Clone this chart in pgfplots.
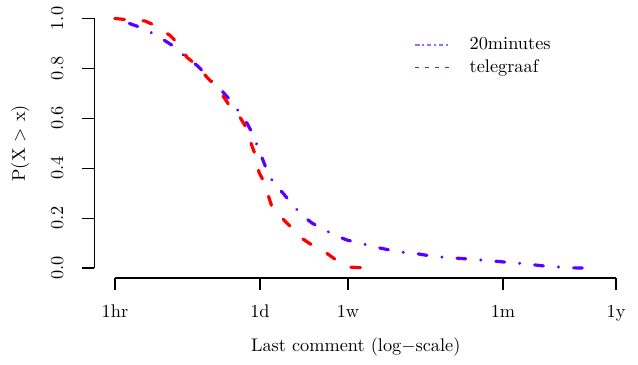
\documentclass[border=0pt]{standalone}
\usepackage{pgfplots}
\pgfplotsset{compat=1.18}
\definecolor{bl}{RGB}{90,0,255}
\definecolor{rd}{RGB}{255,0,0}
\definecolor{lgA}{RGB}{150,110,255}
\definecolor{lgB}{RGB}{90,30,255}
\begin{document}
\begin{tikzpicture}
\path[use as bounding box] (-51.63pt,-47.54pt) rectangle (296.97pt,151.9pt);
\begin{axis}[
 at={(0,0)}, anchor=south west,
 scale only axis, width=285.5pt, height=147.25pt,
 xmin=-0.1956, xmax=4.790, ymin=-0.04, ymax=1.04,
 axis lines*=left, axis line style={draw=none},
 clip=false,
 tick align=outside, major tick length=6.56pt,
 every tick/.style={black, line width=0.6pt},
 xtick={0,1.3836,2.2233,3.7023,4.7805}, xticklabels={1hr,1d,1w,1m,1y},
 ytick={0,0.2,0.4,0.6,0.8,1.0}, yticklabels={0.0,0.2,0.4,0.6,0.8,1.0},
 xticklabel style={yshift=-4.7pt},
 yticklabel style={xshift=-6.8pt, rotate=90, anchor=south},
 xlabel={Last comment (log$-$scale)}, ylabel={P(X $>$ x)},
 xlabel style={at={(axis description cs:0.5,-0.2744)}, anchor=base},
 ylabel style={at={(axis description cs:-0.1331,0.5)}, anchor=base},
 legend style={draw=none, fill=none, at={(axis description cs:0.6007,0.9205)}, anchor=north west, nodes={inner sep=2.0pt}, column sep=8.5pt},
 legend cell align=left,
 legend image code/.code={\draw[#1] (0pt,0pt) -- (19pt,0pt);},
]
\addlegendimage{lgA, line width=0.8pt, dash pattern=on 2.5pt off 1.6pt on 0.8pt off 1.6pt}
\addlegendentry{20minutes}
\addlegendimage{lgB, line width=0.8pt, dash pattern=on 2.4pt off 3pt}
\addlegendentry{telegraaf}
\addplot[black, line width=0.6pt, forget plot] coordinates {(0,-0.04) (4.7805,-0.04)};
\addplot[black, line width=0.6pt, forget plot] coordinates {(-0.1956,0) (-0.1956,1)};
\addplot[bl, line width=1.75pt, line cap=round, line join=round, dash pattern=on 0.01pt off 8.25pt on 4.8pt off 8.25pt, forget plot] coordinates {
(0,1.0) (0.239,0.965) (0.363,0.94) (0.458,0.916) (0.573,0.885) (0.668,0.848) (0.782,0.812) (0.859,0.78) (0.954,0.732) (1.031,0.705) (1.116,0.664) (1.193,0.62) (1.260,0.58) (1.326,0.528) (1.365,0.48) (1.412,0.432) (1.460,0.38) (1.527,0.332) (1.603,0.30) (1.689,0.256) (1.784,0.212) (1.880,0.18) (1.985,0.156) (2.118,0.128) (2.214,0.112) (2.338,0.10) (2.471,0.085) (2.576,0.076) (2.710,0.064) (2.844,0.06) (2.958,0.052) (3.082,0.045) (3.216,0.041) (3.340,0.037) (3.464,0.033) (3.588,0.029) (3.712,0.024) (3.836,0.02) (3.950,0.015) (4.074,0.009) (4.198,0.005) (4.332,0.001) (4.447,0) (4.599,0)};
\addplot[rd, line width=1.75pt, line cap=round, line join=round, dash pattern=on 5.2pt off 10.1pt, forget plot] coordinates {
(0,1.0) (0.115,0.995) (0.286,0.99) (0.382,0.972) (0.525,0.932) (0.601,0.9) (0.687,0.844) (0.782,0.812) (0.887,0.76) (0.973,0.724) (1.059,0.672) (1.126,0.628) (1.193,0.604) (1.250,0.564) (1.298,0.5) (1.336,0.456) (1.374,0.384) (1.422,0.344) (1.498,0.244) (1.574,0.208) (1.689,0.16) (1.765,0.124) (1.908,0.084) (2.004,0.064) (2.137,0.024) (2.223,0.004) (2.395,0) (2.510,0)};
\end{axis}
\end{tikzpicture}
\end{document}
